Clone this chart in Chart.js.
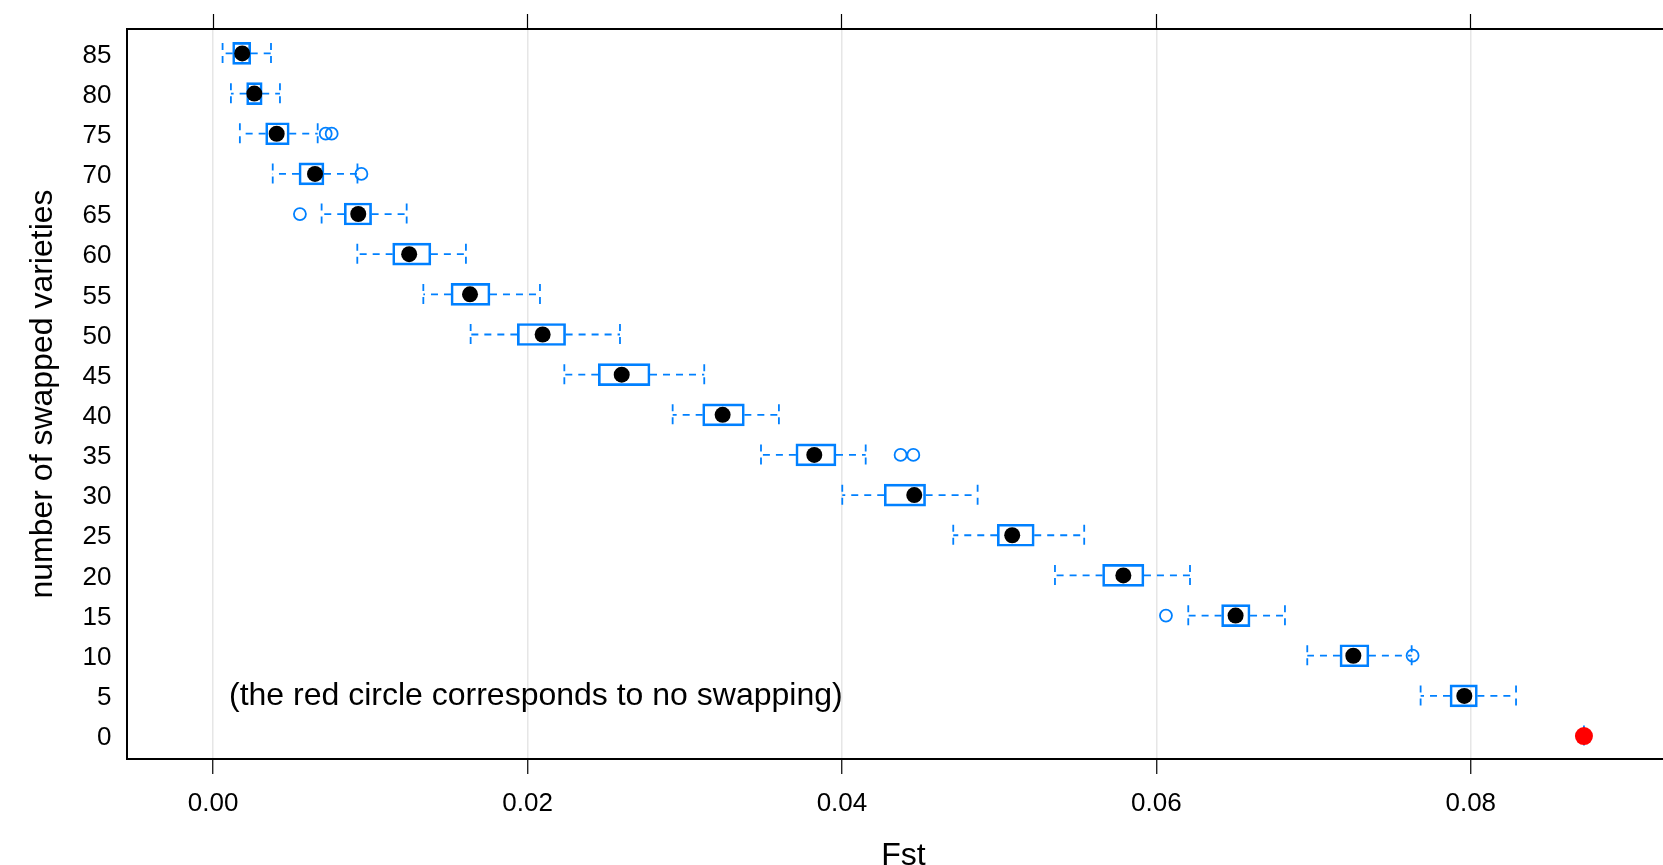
<!DOCTYPE html>
<html>
<head>
<meta charset="utf-8">
<script src="https://cdn.jsdelivr.net/npm/chart.js@4.4.1/dist/chart.umd.min.js"></script>
<style>
  html, body { margin: 0; padding: 0; background: #ffffff; overflow: hidden; }
  #c { display: block; width: 1680px; height: 865px; }
</style>
</head>
<body>
<canvas id="c" width="1680" height="865"></canvas>
<script>
// ---- data ----
const swapped = [85, 80, 75, 70, 65, 60, 55, 50, 45, 40, 35, 30, 25, 20, 15, 10, 5, 0];
const whiskerLow = [0.00060, 0.00113, 0.00170, 0.00379, 0.00690, 0.00917, 0.01337, 0.01638, 0.02234, 0.02923, 0.03485, 0.04002, 0.04708, 0.05355, 0.06203, 0.06960, 0.07681, 0.0872];
const q1 =         [0.00124, 0.00213, 0.00334, 0.00546, 0.00834, 0.01142, 0.01513, 0.01935, 0.02450, 0.03114, 0.03707, 0.04269, 0.04988, 0.05658, 0.06415, 0.07168, 0.07868, 0.0872];
const median =     [0.00185, 0.00262, 0.00404, 0.00648, 0.00923, 0.01247, 0.01634, 0.02096, 0.02599, 0.03241, 0.03824, 0.04460, 0.05083, 0.05790, 0.06504, 0.07253, 0.07959, 0.0872];
const q3 =         [0.00239, 0.00312, 0.00484, 0.00705, 0.01008, 0.01385, 0.01761, 0.02242, 0.02779, 0.03379, 0.03962, 0.04532, 0.05223, 0.05921, 0.06596, 0.07352, 0.08042, 0.0872];
const whiskerHigh =[0.00368, 0.00425, 0.00665, 0.00918, 0.01231, 0.01608, 0.02079, 0.02588, 0.03124, 0.03599, 0.04151, 0.04863, 0.05541, 0.06214, 0.06818, 0.07624, 0.08288, 0.0872];
const outlierRows =   [75, 75, 70, 65, 35, 35, 15, 10];
const outlierValues = [0.00716, 0.00754, 0.00943, 0.00552, 0.04373, 0.04454, 0.06061, 0.0763];
const xTicks = [0.00, 0.02, 0.04, 0.06, 0.08];
const yTicks = [0, 5, 10, 15, 20, 25, 30, 35, 40, 45, 50, 55, 60, 65, 70, 75, 80, 85];
const xTitle = 'Fst';
const yTitle = 'number of swapped varieties';
const note = '(the red circle corresponds to no swapping)';

// ---- styles ----
const BLUE = '#0080ff';
const FONT = '"Liberation Sans", Arial, Helvetica, sans-serif';
const CAP = 1.3; // half-height of whisker caps in y units

// ---- derived datasets ----
const boxData = swapped.map((y, i) => ({ x: [q1[i], q3[i]], y }));
const whiskerData = [];
const capData = [];
swapped.forEach((y, i) => {
  whiskerData.push({ x: q1[i], y }, { x: whiskerLow[i], y }, { x: null, y: null });
  whiskerData.push({ x: q3[i], y }, { x: whiskerHigh[i], y }, { x: null, y: null });
  capData.push({ x: whiskerLow[i], y: y + CAP }, { x: whiskerLow[i], y: y - CAP }, { x: null, y: null });
  capData.push({ x: whiskerHigh[i], y: y + CAP }, { x: whiskerHigh[i], y: y - CAP }, { x: null, y: null });
});
const medianData = swapped.map((y, i) => ({ x: median[i], y }));
const medianColors = swapped.map(y => (y === 0 ? '#ff0000' : '#000000'));
const medianRadius = swapped.map(y => (y === 0 ? 9 : 8));
const outlierData = outlierRows.map((y, i) => ({ x: outlierValues[i], y }));

const notePlugin = {
  id: 'note',
  beforeDraw(chart) {
    const ctx = chart.ctx;
    ctx.save();
    ctx.fillStyle = '#ffffff';
    ctx.fillRect(0, 0, chart.width, chart.height);
    ctx.restore();
  },
  afterDraw(chart) {
    const ctx = chart.ctx;
    const ys = chart.scales.y;
    ctx.save();
    ctx.font = '32px ' + FONT;
    ctx.fillStyle = '#000000';
    ctx.textAlign = 'left';
    ctx.textBaseline = 'middle';
    ctx.fillText(note, chart.chartArea.left + 102, ys.getPixelForValue(5));
    ctx.restore();
  }
};

const noPad = s => { s.paddingLeft = 0; s.paddingRight = 0; s.paddingTop = 0; s.paddingBottom = 0; };

new Chart(document.getElementById('c'), {
  type: 'scatter',
  data: {
    datasets: [
      {
        type: 'scatter', label: 'median', data: medianData,
        xAxisID: 'x', yAxisID: 'y', order: 0,
        pointBackgroundColor: medianColors, pointBorderWidth: 0,
        pointRadius: medianRadius, pointHoverRadius: medianRadius
      },
      {
        type: 'scatter', label: 'outliers', data: outlierData,
        xAxisID: 'x', yAxisID: 'y', order: 1,
        pointBackgroundColor: 'rgba(0,0,0,0)', pointBorderColor: BLUE,
        pointBorderWidth: 1.8, pointRadius: 6, pointHoverRadius: 6
      },
      {
        type: 'bar', label: 'box', data: boxData, indexAxis: 'y',
        xAxisID: 'x', yAxisID: 'y', order: 2,
        backgroundColor: 'rgba(0,0,0,0)', borderColor: BLUE, borderWidth: 2,
        borderSkipped: false, barThickness: 22
      },
      {
        type: 'line', label: 'whiskers', data: whiskerData,
        xAxisID: 'x', yAxisID: 'y', order: 3,
        borderColor: BLUE, borderWidth: 1.8, borderDash: [7, 6],
        pointRadius: 0, fill: false, tension: 0, spanGaps: false
      },
      {
        type: 'line', label: 'caps', data: capData,
        xAxisID: 'x', yAxisID: 'y', order: 3,
        borderColor: BLUE, borderWidth: 1.8, borderDash: [7, 6],
        pointRadius: 0, fill: false, tension: 0, spanGaps: false
      }
    ]
  },
  options: {
    responsive: false,
    maintainAspectRatio: false,
    animation: false,
    devicePixelRatio: 1,
    layout: { padding: 0, autoPadding: false },
    plugins: { legend: { display: false }, tooltip: { enabled: false } },
    scales: {
      x: {
        type: 'linear', position: 'bottom', min: -0.00548, max: 0.09331,
        offset: false, beginAtZero: false,
        afterBuildTicks: s => { s.ticks = xTicks.map(v => ({ value: v })); },
        afterFit: s => { s.height = 106; noPad(s); },
        ticks: {
          callback: v => Number(v).toFixed(2), color: '#000000',
          font: { family: FONT, size: 26 }, padding: 14, maxRotation: 0, autoSkip: false
        },
        grid: {
          offset: false,
          color: '#e6e6e6', lineWidth: 1.5, drawOnChartArea: true, drawTicks: true,
          tickLength: 15, tickColor: '#000000', tickWidth: 1.2
        },
        border: { display: true, color: '#000000', width: 2 },
        title: {
          display: true, text: xTitle, color: '#000000', padding: 0,
          font: { family: FONT, size: 32, lineHeight: 0.56 }
        }
      },
      xTop: {
        type: 'linear', position: 'top', min: -0.00548, max: 0.09331,
        offset: false,
        afterBuildTicks: s => { s.ticks = xTicks.map(v => ({ value: v })); },
        afterFit: s => { s.height = 29; noPad(s); },
        ticks: { display: false },
        grid: {
          offset: false,
          drawOnChartArea: false, drawTicks: true, tickLength: 15,
          color: '#000000', tickColor: '#000000', tickWidth: 1.2
        },
        border: { display: true, color: '#000000', width: 2 }
      },
      y: {
        type: 'linear', position: 'left', min: -2.86, max: 88.04,
        offset: false,
        afterBuildTicks: s => { s.ticks = yTicks.map(v => ({ value: v })); },
        afterFit: s => { s.width = 127; noPad(s); },
        ticks: { color: '#000000', font: { family: FONT, size: 26 }, padding: 15.5, labelOffset: 2, autoSkip: false },
        grid: { display: false, drawTicks: false, offset: false },
        border: { display: true, color: '#000000', width: 2 },
        title: {
          display: true, text: yTitle, color: '#000000', padding: 24,
          font: { family: FONT, size: 32 }
        }
      }
    }
  },
  plugins: [notePlugin]
});
</script>
</body>
</html>
